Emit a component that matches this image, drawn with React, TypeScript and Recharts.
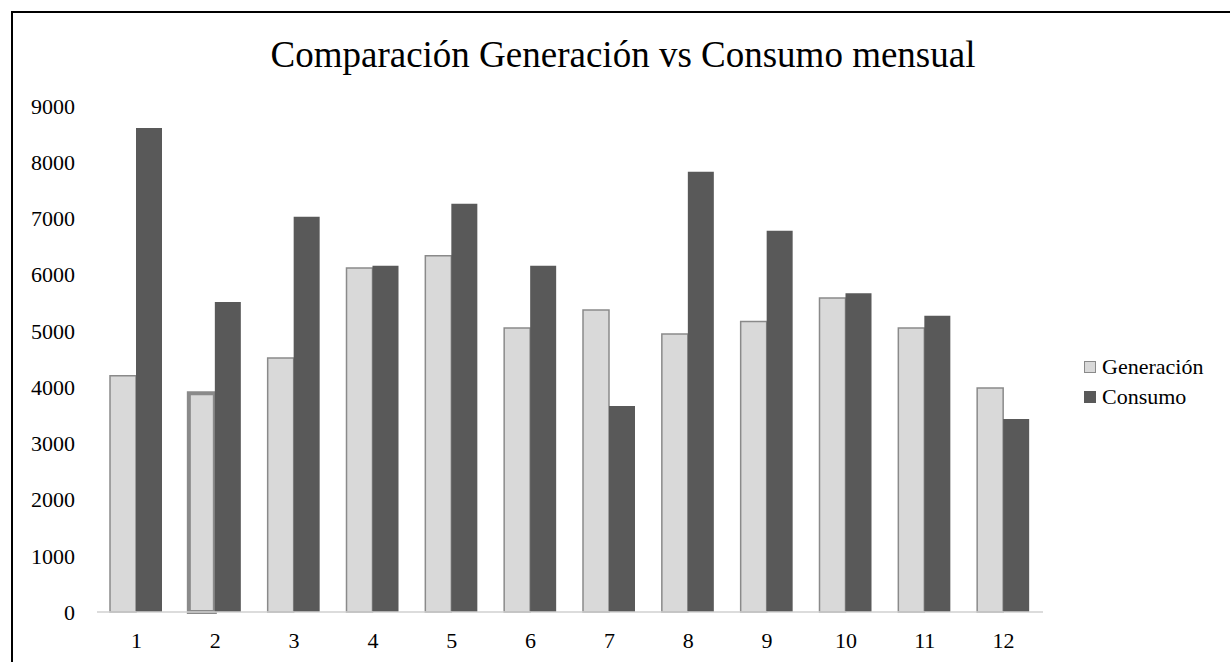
import { Bar, BarChart, Cell, XAxis, YAxis } from "recharts";

// Generación vs Consumo por mes (kWh)
const months = ["1", "2", "3", "4", "5", "6", "7", "8", "9", "10", "11", "12"];
const generacion = [4200, 3890, 4520, 6120, 6335, 5050, 5370, 4945, 5165, 5585, 5050, 3985];
const consumo = [8610, 5515, 7030, 6160, 7260, 6160, 3665, 7830, 6780, 5670, 5270, 3435];
const yTicks = [0, 1000, 2000, 3000, 4000, 5000, 6000, 7000, 8000, 9000];

const title = "Comparación Generación vs Consumo mensual";
const genColor = "#d9d9d9";
const genStroke = "#8a8a8a";
const conColor = "#595959";
const font = '"Liberation Serif", "Times New Roman", serif';

const data = months.map((m, i) => ({
	mes: m,
	Generación: generacion[i],
	Consumo: consumo[i],
}));

const legendItems = [
	{ name: "Generación", fill: genColor, stroke: genStroke },
	{ name: "Consumo", fill: conColor, stroke: conColor },
];

export default function App() {
	return (
		<div
			style={{
				position: "fixed",
				left: 0,
				top: 0,
				width: 1230,
				height: 662,
				overflow: "hidden",
				background: "#fff",
				fontFamily: font,
			}}
		>
			{/* marco recortado: solo se ven los bordes izquierdo y superior */}
			<div
				style={{
					position: "absolute",
					left: 11,
					top: 11,
					width: 1300,
					height: 700,
					borderLeft: "2px solid #000",
					borderTop: "2px solid #000",
				}}
			/>
			<div
				style={{
					position: "absolute",
					left: 0,
					top: 36,
					width: 1246,
					textAlign: "center",
					fontSize: 37,
					lineHeight: 1,
					color: "#000",
				}}
			>
				{title}
			</div>
			<div style={{ position: "absolute", left: 0, top: 0 }}>
				<BarChart
					width={1230}
					height={662}
					data={data}
					barSize={26}
					barGap={0}
					margin={{ top: 106, right: 187, bottom: 0, left: 0 }}
				>
					<XAxis
						dataKey="mes"
						height={50}
						tickLine={false}
						tickMargin={14}
						axisLine={{ stroke: "#d0d0d0", strokeWidth: 1.5 }}
						tick={{ fill: "#000", fontSize: 22, fontFamily: font }}
						interval={0}
					/>
					<YAxis
						width={97}
						domain={[0, 9000]}
						ticks={yTicks}
						axisLine={false}
						tickLine={false}
						tickMargin={16}
						interval={0}
						tick={{ fill: "#000", fontSize: 22, fontFamily: font }}
					/>
					<Bar
						dataKey="Generación"
						fill={genColor}
						stroke={genStroke}
						strokeWidth={1.5}
						isAnimationActive={false}
					>
						{data.map((_, i) => (
							<Cell
								key={i}
								strokeWidth={i === 1 ? 4 : 1.5}
								stroke={genStroke}
							/>
						))}
					</Bar>
					<Bar dataKey="Consumo" fill={conColor} isAnimationActive={false} />
				</BarChart>
			</div>
			<div
				style={{
					position: "absolute",
					left: 1084,
					top: 352,
					fontSize: 22,
					lineHeight: "30px",
					color: "#000",
				}}
			>
				{legendItems.map((it) => (
					<div key={it.name} style={{ display: "flex", alignItems: "center" }}>
						<span
							style={{
								display: "inline-block",
								width: 10,
								height: 10,
								background: it.fill,
								border: `1px solid ${it.stroke}`,
								marginRight: 6,
							}}
						/>
						{it.name}
					</div>
				))}
			</div>
		</div>
	);
}
